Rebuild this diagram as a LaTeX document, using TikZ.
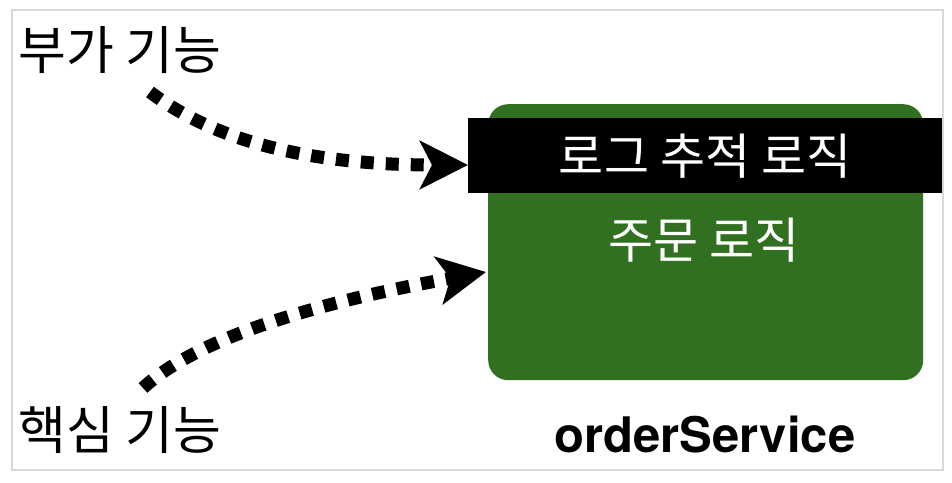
\documentclass[tikz,border=0pt]{standalone}
\usepackage{fontspec}
\newfontfamily\kr{Noto Sans CJK KR}
\newfontfamily\hv{TeX Gyre Heros}
\usetikzlibrary{arrows.meta}
\definecolor{boxgreen}{RGB}{50,112,33}
\definecolor{framegray}{RGB}{216,216,216}
\begin{document}
\begin{tikzpicture}[x=1pt,y=-1pt,
  krtext/.style={font=\kr\fontsize{52}{52}\selectfont},
  wtext/.style={text=white, font=\kr\fontsize{49}{49}\selectfont},
  flow/.style={line width=13pt, dash pattern=on 13pt off 12pt,
    -{Stealth[length=48pt,width=48pt,inset=12pt]}}]
\useasboundingbox (0,0) rectangle (952,482);
\draw[framegray, line width=2pt] (12,10) rectangle (943,470);
\node[fill=boxgreen, rounded corners=20pt, minimum width=435pt, minimum height=276pt,
  inner sep=0pt, anchor=north west] (svc) at (488,104) {};
\node[fill=black, minimum width=474pt, minimum height=75pt, inner sep=0pt,
  anchor=north west, wtext] (log) at (468,118) {로그 추적 로직};
\node[wtext] (order) at (704,240) {주문 로직};
\node[font=\hv\bfseries\fontsize{49}{49}\selectfont] (svcname) at (705,435) {orderService};
\node[krtext] (extra) at (120,50) {부가 기능};
\node[krtext] (core) at (120,430) {핵심 기능};
\coordinate (s1) at (150,92);
\coordinate (e1) at (468,165);
\coordinate (s2) at (143,388);
\coordinate (e2) at (486,272);
\draw[flow] (s1) .. controls (220,145) and (320,165) .. (e1);
\draw[flow] (s2) .. controls (200,335) and (330,300) .. (e2);
\end{tikzpicture}
\end{document}
